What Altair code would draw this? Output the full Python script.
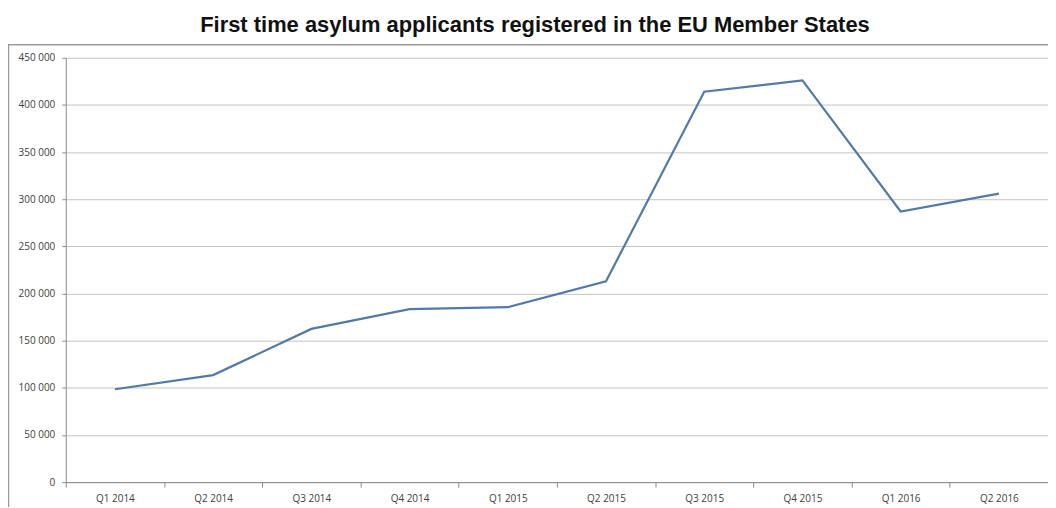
import altair as alt
import pandas as pd

quarters = ["Q1 2014", "Q2 2014", "Q3 2014", "Q4 2014", "Q1 2015",
            "Q2 2015", "Q3 2015", "Q4 2015", "Q1 2016", "Q2 2016"]
applicants = [98500, 113500, 162500, 183500, 185500,
              213000, 414000, 426000, 287000, 306000]
y_ticks = [0, 50000, 100000, 150000, 200000, 250000, 300000, 350000, 400000, 450000]
title_text = "First time asylum applicants registered in the EU Member States"

df = pd.DataFrame({"quarter": quarters, "value": applicants})

W, H = 986, 426

line = alt.Chart(df).mark_line(color="#5479a8", strokeWidth=2.2).encode(
    x=alt.X("quarter:N", sort=quarters, title=None,
            scale=alt.Scale(paddingInner=0, paddingOuter=0),
            axis=alt.Axis(labelAngle=0, tickBand="extent", grid=False,
                          domainColor="#8a8a8a", tickColor="#8a8a8a", tickSize=5,
                          labelColor="#404040", labelFont="Open Sans", labelFontSize=10,
                          labelPadding=6)),
    y=alt.Y("value:Q", title=None,
            scale=alt.Scale(domain=[0, 450000], nice=False),
            axis=alt.Axis(values=y_ticks, gridColor="#c4c4c4", gridWidth=1,
                          domainColor="#8a8a8a", tickColor="#8a8a8a", tickSize=4,
                          labelColor="#404040", labelFont="Open Sans", labelFontSize=10,
                          labelPadding=7,
                          labelExpr="replace(format(datum.value, ','), ',', ' ')"))
)

title_df = pd.DataFrame({"t": [title_text]})
title = alt.Chart(title_df).mark_text(
    font="Liberation Sans", fontSize=22, fontWeight="bold", color="#111111",
    align="center", baseline="alphabetic"
).encode(text="t:N", x=alt.value(471), y=alt.value(-26))

frame_df = pd.DataFrame({"k": [0]})
top_line = alt.Chart(frame_df).mark_rule(color="#9a9a9a", strokeWidth=1.5).encode(
    x=alt.value(-58), x2=alt.value(W), y=alt.value(-13))
left_line = alt.Chart(frame_df).mark_rule(color="#9a9a9a", strokeWidth=1.5).encode(
    x=alt.value(-57.5), y=alt.value(-13), y2=alt.value(H + 30))

chart = alt.layer(line, title, top_line, left_line).properties(
    width=W, height=H,
    autosize=alt.AutoSizeParams(type="none"),
    padding={"left": 58, "top": 49, "right": 0, "bottom": 24},
    background="white"
).configure_view(stroke=None)

chart.save("out.html", embed_options={"renderer": "svg", "actions": False})
